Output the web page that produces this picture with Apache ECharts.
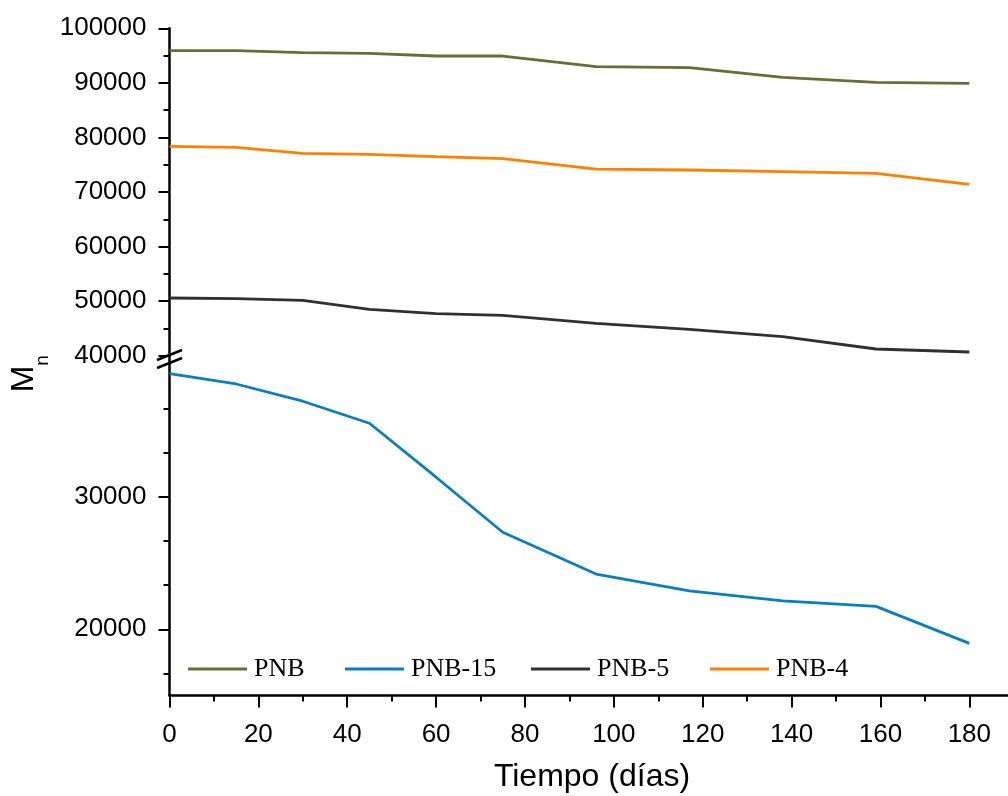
<!DOCTYPE html>
<html>
<head>
<meta charset="utf-8">
<script src="https://cdn.jsdelivr.net/npm/echarts@6/dist/echarts.min.js"></script>
<style>
  html, body { margin: 0; padding: 0; background: #fff; }
  #chart { width: 1008px; height: 796px; }
</style>
</head>
<body>
<div id="chart"></div>
<script>
// ---- data ----
const days = [0, 15, 30, 45, 60, 75, 96, 117, 138, 159, 180];
const pnb   = [95900, 95900, 95530, 95400, 94920, 94920, 92960, 92780, 91020, 90100, 89920];
const pnb4  = [78370, 78190, 77090, 76910, 76470, 76100, 74210, 74030, 73720, 73430, 71400];
const pnb5  = [50570, 50450, 50150, 48500, 47700, 47400, 45940, 44840, 43480, 41230, 40680];
const pnb15 = [39280, 38500, 37200, 35540, 31470, 27320, 24170, 22890, 22140, 21730, 18940];
const seriesNames = ['PNB', 'PNB-15', 'PNB-5', 'PNB-4'];
const lowerMajorTicks = [20000, 30000];
const lowerMinorTicks = [16667, 23333, 26667, 33333, 36667];
const xTitle = 'Tiempo (días)';

const colors = { 'PNB': '#6b6b36', 'PNB-15': '#0a7ec2', 'PNB-5': '#303030', 'PNB-4': '#ff7f00' };
const pairs = arr => days.map((d, i) => [d, arr[i]]);

const FONT = "'Liberation Sans', Arial, sans-serif";
const SERIF = "'Liberation Serif', 'Times New Roman', serif";
const LEFT = 169.5, WIDTH = 888.7;

const chart = echarts.init(document.getElementById('chart'), null, { renderer: 'canvas' });

const yCommon = {
  type: 'value', position: 'left',
  axisLine: { show: true, lineStyle: { color: '#000', width: 2.5 } },
  axisTick: { show: true, inside: false, length: 11, lineStyle: { color: '#000', width: 2 } },
  axisLabel: { color: '#000', fontSize: 26, fontFamily: FONT, margin: 23, formatter: v => String(v) },
  splitLine: { show: false }
};

const lineSeries = (name, data, xi, yi) => ({
  name, type: 'line', data, xAxisIndex: xi, yAxisIndex: yi,
  symbol: 'none', smooth: false,
  lineStyle: { color: colors[name], width: 2.8 },
  itemStyle: { color: colors[name] }
});

const legendPos = [188, 345, 531, 710];
const legends = seriesNames.map((n, i) => ({
  data: [n], left: legendPos[i], top: 656, padding: 0,
  icon: 'rect', itemWidth: 59, itemHeight: 2.8, itemGap: 0,
  textStyle: { color: '#000', fontSize: 26, fontFamily: SERIF, padding: [0, 0, 0, 2] },
  selectedMode: false
}));

const option = {
  animation: false,
  backgroundColor: '#fff',
  grid: [
    { left: LEFT, width: WIDTH, top: 28.3, height: 327.4, containLabel: false, outerBoundsMode: 'none' },
    { left: LEFT, width: WIDTH, top: 364.1, height: 331.5, containLabel: false, outerBoundsMode: 'none' }
  ],
  xAxis: [
    { type: 'value', gridIndex: 0, min: 0, max: 200, interval: 20, show: false },
    { type: 'value', gridIndex: 1, min: 0, max: 200, interval: 20, position: 'bottom',
      axisLine: { show: true, onZero: false, lineStyle: { color: '#000', width: 2.5 } },
      axisTick: { show: true, length: 12, lineStyle: { color: '#000', width: 2 } },
      minorTick: { show: true, splitNumber: 2, length: 6, lineStyle: { color: '#000', width: 2 } },
      axisLabel: { color: '#000', fontSize: 26, fontFamily: FONT, margin: 26, formatter: v => String(v) },
      splitLine: { show: false }, minorSplitLine: { show: false } }
  ],
  yAxis: [
    Object.assign({}, yCommon, { gridIndex: 0, min: 40000, max: 100000, interval: 10000,
      minorTick: { show: true, splitNumber: 2, length: 6, lineStyle: { color: '#000', width: 2 } },
      minorSplitLine: { show: false } }),
    Object.assign({}, yCommon, { gridIndex: 1, min: 15000, max: 40000,
      axisTick: { show: true, length: 11, customValues: lowerMajorTicks, lineStyle: { color: '#000', width: 2 } },
      axisLabel: Object.assign({}, yCommon.axisLabel, { customValues: lowerMajorTicks }) }),
    { type: 'value', gridIndex: 1, min: 15000, max: 40000, position: 'left', offset: 0,
      axisLine: { show: false, onZero: false },
      axisTick: { show: true, length: 6, customValues: lowerMinorTicks, lineStyle: { color: '#000', width: 2 } },
      axisLabel: { show: false }, splitLine: { show: false } }
  ],
  legend: legends,
  series: [
    lineSeries('PNB', pairs(pnb), 0, 0),
    lineSeries('PNB-4', pairs(pnb4), 0, 0),
    lineSeries('PNB-5', pairs(pnb5), 0, 0),
    lineSeries('PNB-15', pairs(pnb15), 1, 1)
  ],
  graphic: [
    { type: 'line', shape: { x1: LEFT, y1: 355, x2: LEFT, y2: 365 }, style: { stroke: '#000', lineWidth: 2.5 }, z: 100 },
    { type: 'line', shape: { x1: 157, y1: 360, x2: 182, y2: 350 }, style: { stroke: '#000', lineWidth: 2.5 }, z: 100 },
    { type: 'line', shape: { x1: 157, y1: 368, x2: 182, y2: 358 }, style: { stroke: '#000', lineWidth: 2.5 }, z: 100 },
    { type: 'text', x: 24, y: 379, rotation: Math.PI / 2,
      style: { text: 'M', font: "32px 'Liberation Sans', Arial, sans-serif", fill: '#000', align: 'center', verticalAlign: 'middle' }, z: 100 },
    { type: 'text', x: 43, y: 360.5, rotation: Math.PI / 2,
      style: { text: 'n', font: "19px 'Liberation Sans', Arial, sans-serif", fill: '#000', align: 'center', verticalAlign: 'middle' }, z: 100 },
    { type: 'text', x: 592, y: 777,
      style: { text: xTitle, font: "32px 'Liberation Sans', Arial, sans-serif", fill: '#000', align: 'center', verticalAlign: 'middle' }, z: 100 }
  ]
};

chart.setOption(option);
</script>
</body>
</html>
